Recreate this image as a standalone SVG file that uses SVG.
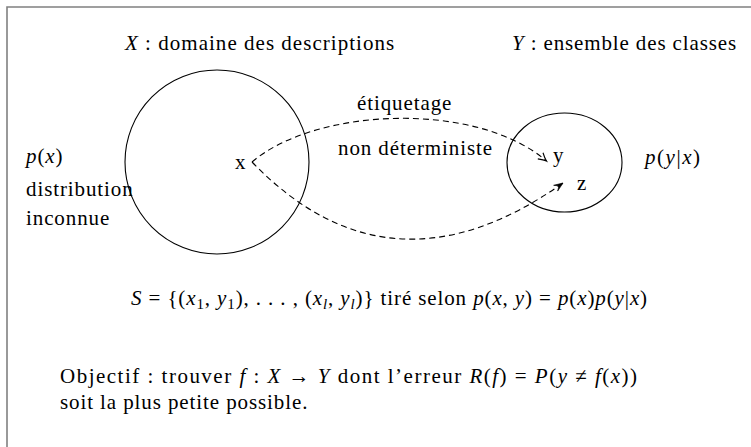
<svg xmlns="http://www.w3.org/2000/svg" width="751" height="447" viewBox="0 0 751 447">
<style>
  text { font-family: "Liberation Serif", "Times New Roman", serif; font-size: 21px; letter-spacing: 0.9px; fill: #000; }
  .i { font-style: italic; }
  .sub { font-size: 15px; }
  .shape { fill: none; stroke: #000; stroke-width: 1.1; }
  .dash { fill: none; stroke: #000; stroke-width: 1.1; stroke-dasharray: 6 4; }
  .frame { fill: none; stroke: #808080; stroke-width: 1.6; }
</style>
<defs>
  <marker id="openHead" markerUnits="userSpaceOnUse" markerWidth="12" markerHeight="12" orient="auto" refX="0" refY="0" overflow="visible">
    <path d="M-8,-4 Q-3,-0.8 0,0 Q-3,0.8 -8,4" fill="none" stroke="#000" stroke-width="1.1" stroke-dasharray="none"/>
  </marker>
  <marker id="barbHead" markerUnits="userSpaceOnUse" markerWidth="12" markerHeight="12" orient="auto" refX="0" refY="0" overflow="visible">
    <path d="M0,0 L-9,-3.5 L-5,0 L-9,3.5 Z" fill="#000" stroke="#000" stroke-width="0.6" stroke-dasharray="none"/>
  </marker>
</defs>
<rect width="751" height="447" fill="#fff"/>
<path class="frame" d="M7,447 L7,7 L751,7"/>

<g id="labels-top">
  <text x="125" y="50" textLength="270"><tspan class="i">X</tspan> : domaine des descriptions</text>
  <text x="512" y="50" textLength="225"><tspan class="i">Y</tspan> : ensemble des classes</text>
</g>

<g id="node-X">
  <circle class="shape" cx="217" cy="162" r="92"/>
  <text x="235" y="169">x</text>
</g>

<g id="node-Y">
  <ellipse class="shape" cx="564.5" cy="162.5" rx="57.5" ry="49.5"/>
  <text x="553" y="162">y</text>
  <text x="577" y="190">z</text>
</g>

<g id="connectors">
  <path class="dash" d="M252,162 C315,108 475,100 546.5,161" marker-end="url(#openHead)"/>
  <path class="dash" d="M252,162 Q390,305 563,183" marker-end="url(#barbHead)"/>
</g>

<g id="label-edge">
  <text x="357" y="110">étiquetage</text>
  <text x="338" y="155">non déterministe</text>
</g>

<g id="label-px">
  <text x="26" y="163"><tspan class="i">p</tspan>(<tspan class="i">x</tspan>)</text>
  <text x="26" y="196">distribution</text>
  <text x="26" y="225">inconnue</text>
</g>

<g id="label-pyx">
  <text x="645" y="164" textLength="56"><tspan class="i">p</tspan>(<tspan class="i">y</tspan>|<tspan class="i">x</tspan>)</text>
</g>

<g id="label-sample">
  <text x="131" y="305" textLength="517"><tspan class="i">S</tspan> = {(<tspan class="i">x</tspan><tspan class="sub" dy="4">1</tspan><tspan dy="-4">, </tspan><tspan class="i">y</tspan><tspan class="sub" dy="4">1</tspan><tspan dy="-4">), . . . , (</tspan><tspan class="i">x</tspan><tspan class="sub i" dy="4">l</tspan><tspan dy="-4">, </tspan><tspan class="i">y</tspan><tspan class="sub i" dy="4">l</tspan><tspan dy="-4">)} tiré selon </tspan><tspan class="i">p</tspan>(<tspan class="i">x</tspan>, <tspan class="i">y</tspan>) = <tspan class="i">p</tspan>(<tspan class="i">x</tspan>)<tspan class="i">p</tspan>(<tspan class="i">y</tspan>|<tspan class="i">x</tspan>)</text>
</g>

<g id="label-objective">
  <text x="60" y="383" textLength="578">Objectif : trouver <tspan class="i">f</tspan> : <tspan class="i">X</tspan> → <tspan class="i">Y</tspan> dont l’erreur <tspan class="i">R</tspan>(<tspan class="i">f</tspan>) = <tspan class="i">P</tspan>(<tspan class="i">y</tspan> ≠ <tspan class="i">f</tspan>(<tspan class="i">x</tspan>))</text>
  <text x="60" y="409">soit la plus petite possible.</text>
</g>
</svg>
